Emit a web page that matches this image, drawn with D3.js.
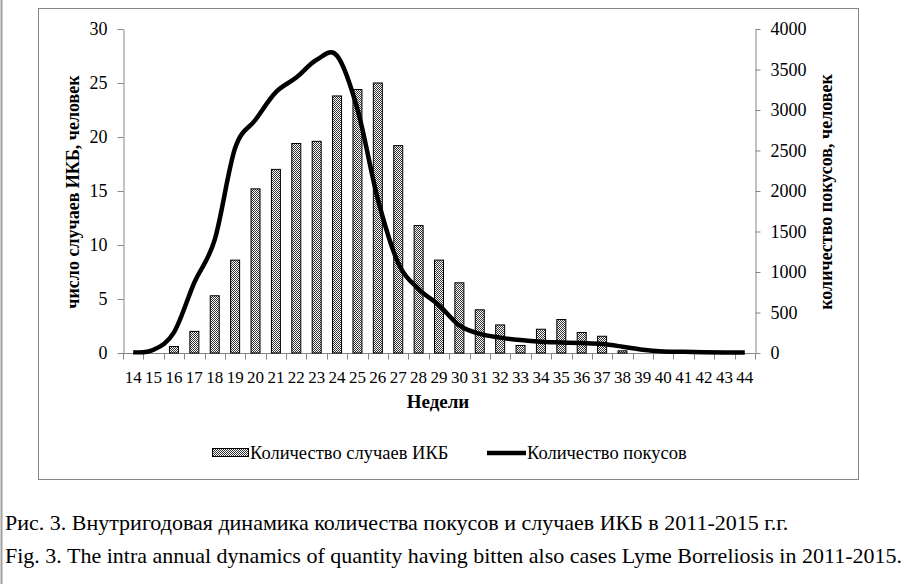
<!DOCTYPE html>
<html>
<head>
<meta charset="utf-8">
<script src="https://cdn.jsdelivr.net/npm/d3@7"></script>
<style>
  body { margin: 0; background: #fff; }
  text { font-family: "Liberation Serif", "Times New Roman", serif; fill: #000; }
  .axis path, .axis line { stroke: #868686; }
</style>
</head>
<body>
<div class="chart"></div>
<script>
// weeks of the year
var weeks = [14,15,16,17,18,19,20,21,22,23,24,25,26,27,28,29,30,31,32,33,34,35,36,37,38,39,40,41,42,43,44];
// number of Lyme borreliosis cases (left axis)
var cases = [0,0,0.6,2,5.3,8.6,15.2,17,19.4,19.6,23.8,24.4,25,19.2,11.8,8.6,6.5,4,2.6,0.7,2.2,3.1,1.9,1.55,0.2,0,0,0,0,0,0];
// number of tick bites (right axis)
var bites = [10,40,255,870,1400,2530,2880,3220,3400,3620,3670,3010,1900,1110,790,590,340,235,190,160,140,130,122,110,78,40,20,14,10,7,5];
var leftTicks = [0,5,10,15,20,25,30];
var rightTicks = [0,500,1000,1500,2000,2500,3000,3500,4000];

var W = 906, H = 584;
var plot = {left: 123, right: 755, top: 29, bottom: 353};

var svg = d3.select(".chart").append("svg")
    .attr("width", W)
    .attr("height", H);

var defs = svg.append("defs");
var pat = defs.append("pattern")
    .attr("id", "dots")
    .attr("patternUnits", "userSpaceOnUse")
    .attr("width", 2)
    .attr("height", 2);
pat.append("rect").attr("width", 2).attr("height", 2).attr("fill", "#fff");
pat.append("rect").attr("width", 1).attr("height", 1).attr("fill", "#333");
pat.append("rect").attr("x", 1).attr("y", 1).attr("width", 1).attr("height", 1).attr("fill", "#333");

// page border on the left and chart frame
svg.append("line")
    .attr("x1", 1.5).attr("x2", 1.5)
    .attr("y1", 0).attr("y2", H)
    .attr("stroke", "#a0a0a0").attr("stroke-width", 2);

svg.append("rect")
    .attr("x", 38.5).attr("y", 8.5)
    .attr("width", 820).attr("height", 471)
    .attr("fill", "none")
    .attr("stroke", "#868686");

const xScale = d3.scaleBand()
    .domain(weeks)
    .range([plot.left, plot.right]);

const yLeft = d3.scaleLinear()
    .domain([0, 30])
    .range([plot.bottom, plot.top]);

const yRight = d3.scaleLinear()
    .domain([0, 4000])
    .range([plot.bottom, plot.top]);

// left axis
const yAxisL = d3.axisLeft(yLeft)
    .tickValues(leftTicks)
    .tickSize(6)
    .tickPadding(10)
    .tickSizeOuter(0);
const gl = svg.append("g")
    .attr("class", "axis")
    .attr("transform", `translate(${plot.left + 0.5},0)`)
    .call(yAxisL);
gl.selectAll("text").style("font-size", "18px");

// right axis
const yAxisR = d3.axisRight(yRight)
    .tickValues(rightTicks)
    .tickFormat(d3.format("d"))
    .tickSize(5)
    .tickPadding(10)
    .tickSizeOuter(0);
const gr = svg.append("g")
    .attr("class", "axis")
    .attr("transform", `translate(${plot.right + 0.5},0)`)
    .call(yAxisR);
gr.selectAll("text").style("font-size", "18px");

// bottom axis, ticks between categories
const gx = svg.append("g")
    .attr("class", "axis")
    .attr("transform", `translate(0,${plot.bottom + 0.5})`);
gx.append("line")
    .attr("x1", plot.left).attr("x2", plot.right)
    .attr("stroke", "#868686");
gx.selectAll(".tk")
    .data(weeks.concat([null]))
    .enter().append("line")
    .attr("class", "tk")
    .attr("x1", (d, i) => Math.round(plot.left + i * xScale.step()) + 0.5)
    .attr("x2", (d, i) => Math.round(plot.left + i * xScale.step()) + 0.5)
    .attr("y1", 0).attr("y2", 6)
    .attr("stroke", "#868686");
gx.selectAll(".lbl")
    .data(weeks)
    .enter().append("text")
    .attr("class", "lbl")
    .attr("x", d => xScale(d) + xScale.bandwidth() / 2)
    .attr("y", 29)
    .attr("text-anchor", "middle")
    .style("font-size", "17px")
    .text(d => d);

// bars
const barW = 9;
svg.append("g")
    .selectAll("rect")
    .data(weeks.map((w, i) => ({week: w, v: cases[i]})).filter(d => d.v > 0))
    .enter().append("rect")
    .attr("x", d => xScale(d.week) + xScale.bandwidth() / 2 - barW / 2)
    .attr("y", d => yLeft(d.v))
    .attr("width", barW)
    .attr("height", d => plot.bottom - yLeft(d.v))
    .attr("fill", "url(#dots)")
    .attr("stroke", "#000")
    .attr("stroke-width", 1);

// smoothed line
const line = d3.line()
    .x((d, i) => xScale(weeks[i]) + xScale.bandwidth() / 2)
    .y(d => yRight(d))
    .curve(d3.curveCardinal.tension(0));

svg.append("path")
    .datum(bites)
    .attr("fill", "none")
    .attr("stroke", "#000")
    .attr("stroke-width", 4.5)
    .attr("stroke-linejoin", "round")
    .attr("d", line);

// axis titles
svg.append("text")
    .attr("transform", "translate(79,192) rotate(-90)")
    .attr("text-anchor", "middle")
    .style("font-size", "18px")
    .style("font-weight", "bold")
    .text("число случаев ИКБ, человек");

svg.append("text")
    .attr("transform", "translate(832,192) rotate(-90)")
    .attr("text-anchor", "middle")
    .style("font-size", "18px")
    .style("font-weight", "bold")
    .text("количество покусов, человек");

svg.append("text")
    .attr("x", 438)
    .attr("y", 408)
    .attr("text-anchor", "middle")
    .style("font-size", "19px")
    .style("font-weight", "bold")
    .text("Недели");

// legend
svg.append("rect")
    .attr("x", 212.5).attr("y", 448.5)
    .attr("width", 36).attr("height", 8)
    .attr("fill", "url(#dots)")
    .attr("stroke", "#000");
svg.append("text")
    .attr("x", 250).attr("y", 459)
    .style("font-size", "18.5px")
    .text("Количество случаев ИКБ");

svg.append("line")
    .attr("x1", 487).attr("x2", 526)
    .attr("y1", 453).attr("y2", 453)
    .attr("stroke", "#000")
    .attr("stroke-width", 4.5);
svg.append("text")
    .attr("x", 527).attr("y", 459)
    .style("font-size", "18.5px")
    .text("Количество покусов");

// captions
svg.append("text")
    .attr("x", 5).attr("y", 530)
    .style("font-size", "22px")
    .text("Рис. 3. Внутригодовая динамика количества покусов и случаев ИКБ в 2011-2015 г.г.");
svg.append("text")
    .attr("x", 5).attr("y", 563)
    .style("font-size", "22px")
    .text("Fig. 3. The intra annual dynamics of quantity having bitten also cases Lyme Borreliosis in 2011-2015.");
</script>
</body>
</html>
